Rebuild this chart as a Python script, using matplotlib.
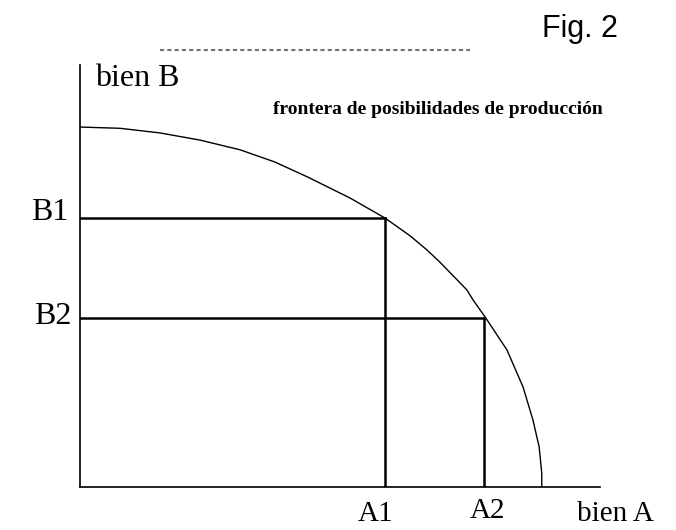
import matplotlib
matplotlib.use("Agg")
import matplotlib.pyplot as plt

# frontier (bien A on x, bien B on y, axis units 0..10)
curve_a = [0.0, 0.77, 1.54, 2.31, 3.08, 3.75, 4.37, 5.19, 5.87, 6.35, 6.67, 6.92,
           7.44, 7.56, 7.79, 8.21, 8.52, 8.71, 8.83, 8.88, 8.88]
curve_b = [8.53, 8.50, 8.39, 8.22, 7.99, 7.70, 7.35, 6.85, 6.37, 5.95, 5.62, 5.33,
           4.67, 4.43, 4.03, 3.25, 2.37, 1.59, 0.95, 0.33, 0.0]

point_labels_a = ["A1", "A2"]
point_labels_b = ["B1", "B2"]
points_a = [5.87, 7.77]
points_b = [6.37, 4.00]

W, H = 676, 530
fig = plt.figure(figsize=(W / 100, H / 100), dpi=100)
fig.patch.set_facecolor("white")


def px(x, y):
    # pixel position in the picture -> figure fraction
    return x / W, 1 - y / H


ax = fig.add_axes([80 / W, (H - 487) / H, 520 / W, 422 / H])
ax.set_xlim(0, 10)
ax.set_ylim(0, 10)
for side in ["top", "right"]:
    ax.spines[side].set_visible(False)
for side in ["left", "bottom"]:
    ax.spines[side].set_linewidth(1.2)
    ax.spines[side].set_color("black")
ax.set_xticks([])
ax.set_yticks([])

ax.plot(curve_a, curve_b, color="black", linewidth=1.0, solid_joinstyle="round")
for a, b in zip(points_a, points_b):
    ax.plot([0, a], [b, b], color="black", linewidth=1.8)
    ax.plot([a, a], [0, b], color="black", linewidth=1.8)

serif = ["Liberation Serif", "DejaVu Serif"]
fig.text(*px(95, 86), "bien B", family=serif, fontsize=23, va="baseline")
fig.text(*px(273, 114), "frontera de posibilidades de producción", family=serif,
         fontsize=14, fontweight="bold", va="baseline")
fig.text(*px(580, 37), "Fig. 2", family=["Liberation Sans", "DejaVu Sans"], fontsize=22,
         ha="center", va="baseline")

fig.text(*px(68, 213), point_labels_b[0], family=serif, fontsize=23, ha="right", va="center")
fig.text(*px(71, 316), point_labels_b[1], family=serif, fontsize=23, ha="right", va="center")
fig.text(*px(376, 521), point_labels_a[0], family=serif, fontsize=21, ha="center", va="baseline")
fig.text(*px(487, 518), point_labels_a[1], family=serif, fontsize=21, ha="center", va="baseline")
fig.text(*px(577, 521), "bien A", family=serif, fontsize=21, ha="left", va="baseline")

# scanner smudge along the top of the sheet
fig.add_artist(plt.Line2D([160 / W, 470 / W], [1 - 50 / H, 1 - 50 / H], color="0.45",
                          linewidth=1.5, linestyle=(0, (2, 1.5))))

fig.savefig("out.png", dpi=100, facecolor="white")
